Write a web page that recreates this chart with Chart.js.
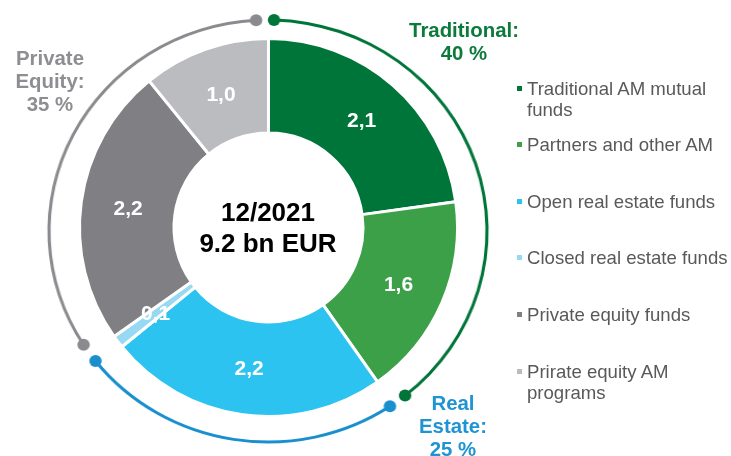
<!DOCTYPE html>
<html>
<head>
<meta charset="utf-8">
<script src="https://cdn.jsdelivr.net/npm/chart.js@4.4.1/dist/chart.umd.min.js"></script>
<style>
  html, body { margin: 0; padding: 0; background: #ffffff; }
  #wrap { position: relative; width: 731px; height: 456px; overflow: hidden;
          font-family: "Liberation Sans", Arial, sans-serif; }
  #wrap canvas { position: absolute; left: 0; top: 0; }
  #arcLayer { position: absolute; left: 0; top: 0; width: 731px; height: 456px;
              transform-origin: 268px 231px; transform: scaleX(1.038); }
  .centerLine { position: absolute; left: 168px; width: 200px; text-align: center;
                font-weight: bold; font-size: 26px; line-height: 31px; color: #000; }
  .group { position: absolute; text-align: center; font-weight: bold; font-size: 20.4px;
           line-height: 23px; white-space: nowrap; }
  .legItem { position: absolute; left: 527px; width: 204px; font-size: 18.6px; line-height: 21px;
             color: #595959; }
  .legSq { position: absolute; left: -10px; top: 8px; width: 5px; height: 5px; }
</style>
</head>
<body>
<div id="wrap">
  <div id="arcLayer"><canvas id="arcs" width="731" height="456"></canvas></div>
  <canvas id="donut" width="731" height="456"></canvas>
</div>
<script>
// ---------- data ----------
const categories = ['Traditional AM mutual funds', 'Partners and other AM', 'Open real estate funds',
                    'Closed real estate funds', 'Private equity funds', 'Prirate equity AM programs'];
const volumes = [2.1, 1.6, 2.2, 0.1, 2.2, 1.0];          // bn EUR
const centerLines = ['12/2021', '9.2 bn EUR'];
const groupNames = [['Traditional:'], ['Real', 'Estate:'], ['Private', 'Equity:']];
const groupShares = [40, 25, 35];                          // %
const groupArcStart = 1.57;                                // degrees from 12 o'clock
const groupArcSpans = [139.7, 85.8, 119.5];                // degrees
const groupArcGaps = [4.9, 5.4, 4.7];                      // degrees

// ---------- styles ----------
const sliceColors = ['#00753A', '#3CA049', '#2CC3F1', '#97D8F2', '#808084', '#BBBCC0'];
const arcColors = ['#00753A', '#1A8FCE', '#8B8B8F'];
const groupTextColors = ['#0B7A3B', '#1E94D2', '#8E8E92'];
const groupBoxes = [ {cx: 464, top: 18.5}, {cx: 453, top: 391.5}, {cx: 50, top: 46.5} ];

// arc ring data (spans interleaved with transparent gaps)
const arcData = [], arcBg = [];
groupArcSpans.forEach((s, i) => {
  arcData.push(s, groupArcGaps[i]);
  arcBg.push(arcColors[i], 'rgba(0,0,0,0)');
});

const fmt = v => v.toFixed(1).replace('.', ',');

const valueLabels = {
  id: 'valueLabels',
  afterDatasetsDraw(chart) {
    const ctx = chart.ctx;
    const meta = chart.getDatasetMeta(0);
    ctx.save();
    ctx.fillStyle = '#ffffff';
    ctx.font = 'bold 21px "Liberation Sans", Arial, sans-serif';
    ctx.textAlign = 'center';
    ctx.textBaseline = 'middle';
    meta.data.forEach((arc, i) => {
      const p = arc.tooltipPosition(true);
      ctx.fillText(fmt(volumes[i]), p.x, p.y + 1);
    });
    ctx.restore();
  }
};

const arcDots = {
  id: 'arcDots',
  afterDatasetsDraw(chart) {
    const ctx = chart.ctx;
    const meta = chart.getDatasetMeta(0);
    ctx.save();
    meta.data.forEach((el, i) => {
      if (i % 2) return;
      const p = el.getProps(['x', 'y', 'startAngle', 'endAngle', 'innerRadius', 'outerRadius'], true);
      const r = (p.innerRadius + p.outerRadius) / 2;
      ctx.fillStyle = el.options.backgroundColor;
      [p.startAngle, p.endAngle].forEach(a => {
        ctx.beginPath();
        ctx.arc(p.x + r * Math.cos(a), p.y + r * Math.sin(a), 6, 0, Math.PI * 2);
        ctx.fill();
      });
    });
    ctx.restore();
  }
};

// main donut
new Chart(document.getElementById('donut'), {
  type: 'doughnut',
  data: {
    labels: categories,
    datasets: [{
      data: volumes,
      backgroundColor: sliceColors,
      borderColor: '#ffffff',
      borderWidth: 3,
      hoverBorderWidth: 3
    }]
  },
  options: {
    responsive: false,
    animation: false,
    events: [],
    cutout: '50%',
    layout: { padding: { left: 78, right: 272, top: 37, bottom: 38 } },
    plugins: { legend: { display: false }, tooltip: { enabled: false } }
  },
  plugins: [valueLabels]
});

// outer group arcs
new Chart(document.getElementById('arcs'), {
  type: 'doughnut',
  data: {
    labels: arcData.map((_, i) => 'arc' + i),
    datasets: [{
      data: arcData,
      backgroundColor: arcBg,
      borderWidth: 0,
      hoverBorderWidth: 0,
      rotation: groupArcStart
    }]
  },
  options: {
    responsive: false,
    animation: false,
    events: [],
    cutout: 209.5,
    layout: { padding: { left: 55.5, right: 250.5, top: 18.5, bottom: 12.5 } },
    plugins: { legend: { display: false }, tooltip: { enabled: false } }
  },
  plugins: [arcDots]
});

// ---------- text overlays ----------
const wrap = document.getElementById('wrap');
centerLines.forEach((t, i) => {
  const d = document.createElement('div');
  d.className = 'centerLine';
  d.style.top = (196.5 + i * 31) + 'px';
  d.textContent = t;
  wrap.appendChild(d);
});

groupNames.forEach((lines, i) => {
  const d = document.createElement('div');
  d.className = 'group';
  d.style.color = groupTextColors[i];
  d.style.top = groupBoxes[i].top + 'px';
  d.style.left = (groupBoxes[i].cx - 100) + 'px';
  d.style.width = '200px';
  [...lines, groupShares[i] + ' %'].forEach(t => {
    const l = document.createElement('div');
    l.textContent = t;
    d.appendChild(l);
  });
  wrap.appendChild(d);
});

categories.forEach((c, i) => {
  const d = document.createElement('div');
  d.className = 'legItem';
  d.style.top = (77.5 + i * 56.6) + 'px';
  const sq = document.createElement('span');
  sq.className = 'legSq';
  sq.style.background = sliceColors[i];
  d.appendChild(sq);
  d.appendChild(document.createTextNode(c));
  wrap.appendChild(d);
});
</script>
</body>
</html>
